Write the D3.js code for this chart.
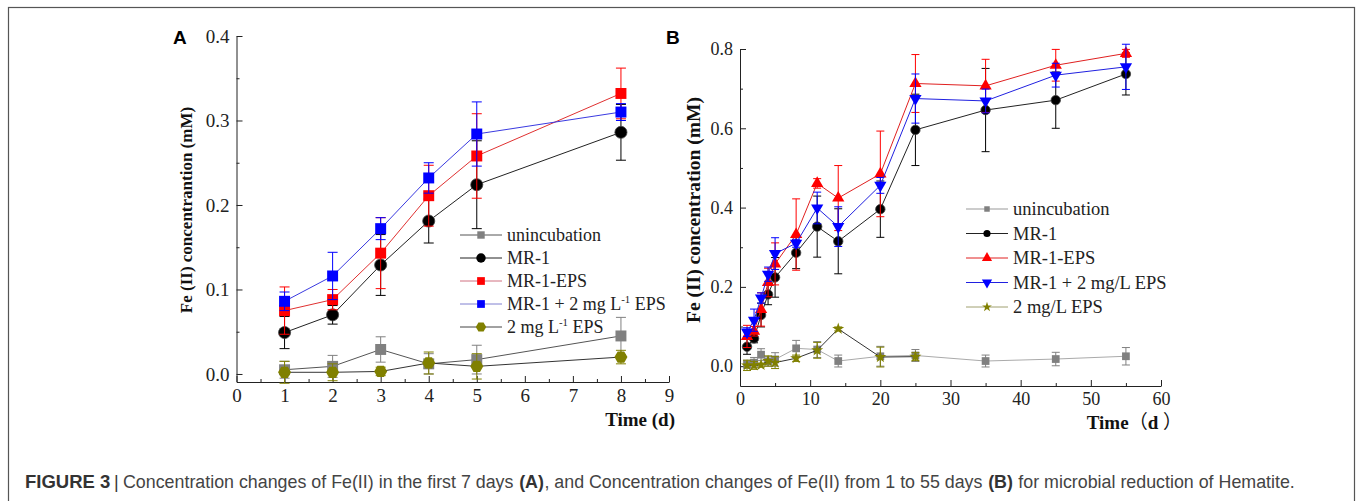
<!DOCTYPE html>
<html>
<head>
<meta charset="utf-8">
<script src="https://cdn.jsdelivr.net/npm/d3@7"></script>
<style>
  body { margin: 0; background: #fff; }
  svg { display: block; }
</style>
</head>
<body>
<div id="fig"></div>
<script>
// ---- data ----
var daysA = [1, 2, 3, 4, 5, 8];
var unincA = [0.005, 0.009, 0.029, 0.012, 0.017, 0.045];
var unincA_err = [0.010, 0.013, 0.015, 0.012, 0.017, 0.022];
var mr1A = [0.049, 0.070, 0.129, 0.181, 0.224, 0.286];
var mr1A_err = [0.019, 0.011, 0.036, 0.026, 0.052, 0.033];
var mr1epsA = [0.075, 0.088, 0.143, 0.211, 0.258, 0.332];
var mr1epsA_err = [0.028, 0.012, 0.042, 0.036, 0.050, 0.030];
var mr1plusA = [0.086, 0.116, 0.172, 0.232, 0.284, 0.310];
var mr1plusA_err = [0.011, 0.028, 0.013, 0.018, 0.038, 0.010];
var epsA = [0.002, 0.002, 0.003, 0.013, 0.009, 0.020];
var epsA_err = [0.013, 0.010, 0.005, 0.013, 0.015, 0.008];

var daysB = [1, 2, 3, 4, 5, 8, 11, 14, 20, 25, 35, 45, 55];
var unincB = [0.005, 0.009, 0.029, 0.012, 0.017, 0.045, 0.042, 0.013, 0.025, 0.027, 0.013, 0.018, 0.025];
var unincB_err = [0.010, 0.013, 0.015, 0.012, 0.017, 0.020, 0.020, 0.015, 0.025, 0.015, 0.015, 0.017, 0.022];
var mr1B = [0.049, 0.070, 0.129, 0.181, 0.224, 0.286, 0.352, 0.315, 0.396, 0.596, 0.646, 0.671, 0.737];
var mr1B_err = [0.019, 0.011, 0.030, 0.026, 0.050, 0.040, 0.077, 0.082, 0.071, 0.090, 0.105, 0.071, 0.053];
var mr1epsB = [0.075, 0.088, 0.143, 0.211, 0.258, 0.332, 0.461, 0.424, 0.485, 0.713, 0.707, 0.759, 0.789];
var mr1epsB_err = [0.028, 0.012, 0.042, 0.036, 0.053, 0.090, 0.012, 0.082, 0.108, 0.073, 0.067, 0.040, 0.010];
var mr1plusB = [0.086, 0.116, 0.172, 0.232, 0.284, 0.310, 0.399, 0.352, 0.456, 0.675, 0.669, 0.734, 0.755];
var mr1plusB_err = [0.011, 0.028, 0.013, 0.018, 0.040, 0.010, 0.040, 0.050, 0.020, 0.062, 0.030, 0.030, 0.057];
var epsB = [0.002, 0.002, 0.003, 0.013, 0.009, 0.020, 0.040, 0.094, 0.023, 0.024];
var epsB_err = [0.013, 0.010, 0.005, 0.013, 0.015, 0.008, 0.020, 0.005, 0.025, 0.010];

var ticksAx = [0, 1, 2, 3, 4, 5, 6, 7, 8, 9];
var ticksAy = [0, 0.1, 0.2, 0.3, 0.4];
var ticksBx = [0, 10, 20, 30, 40, 50, 60];
var ticksBy = [0, 0.2, 0.4, 0.6, 0.8];

var W = 1357, H = 501;
var serif = "'Liberation Serif', 'Times New Roman', serif";

var svg = d3.select("#fig").append("svg")
    .attr("width", W)
    .attr("height", H);

svg.append("rect").attr("width", W).attr("height", H).attr("fill", "#fff");
// outer frame
svg.append("rect")
    .attr("x", 8.5).attr("y", 7.5)
    .attr("width", 1346).attr("height", 510)
    .attr("fill", "none").attr("stroke", "#555").attr("stroke-width", 1.2);

// hexagon marker for the 2 mg L-1 EPS series in panel A
var symbolHex = {
  draw: function(ctx, size) {
    var r = Math.sqrt(size / (1.5 * Math.sqrt(3)));
    for (var i = 0; i < 6; i++) {
      var a = Math.PI / 3 * i;
      if (i === 0) ctx.moveTo(r * Math.cos(a), r * Math.sin(a));
      else ctx.lineTo(r * Math.cos(a), r * Math.sin(a));
    }
    ctx.closePath();
  }
};

function drawAxes(x, y, xTicks, yTicks, xMinor, yMinor, fs, yFmt, pad) {
  var xa = svg.append("g")
      .attr("transform", "translate(0," + y.range()[0] + ")")
      .call(d3.axisBottom(x).tickValues(xTicks).tickSize(-6).tickSizeOuter(0).tickPadding(pad.x).tickFormat(d3.format("d")));
  var xm = svg.append("g")
      .attr("transform", "translate(0," + y.range()[0] + ")")
      .call(d3.axisBottom(x).tickValues(xMinor).tickSize(-3).tickSizeOuter(0).tickFormat(""));
  var ya = svg.append("g")
      .attr("transform", "translate(" + x.range()[0] + ",0)")
      .call(d3.axisLeft(y).tickValues(yTicks).tickSize(-6).tickSizeOuter(0).tickPadding(pad.y).tickFormat(yFmt));
  var ym = svg.append("g")
      .attr("transform", "translate(" + x.range()[0] + ",0)")
      .call(d3.axisLeft(y).tickValues(yMinor).tickSize(-3).tickSizeOuter(0).tickFormat(""));
  [xa, xm, ya, ym].forEach(function(g) {
    g.selectAll("path, line").attr("stroke", "#222").attr("stroke-width", 1);
    g.selectAll("text").attr("font-family", serif).attr("font-size", fs).attr("fill", "#222");
  });
  xm.select("path").remove();
  ym.select("path").remove();
}

function drawSeries(x, y, days, vals, errs, s) {
  var pts = vals.map(function(v, i) { return {d: days[i], v: v, e: errs[i]}; });
  var g = svg.append("g");
  var eb = g.selectAll(".eb").data(pts).enter().append("g")
      .attr("stroke", s.color).attr("stroke-width", 1);
  eb.append("line")
      .attr("x1", function(d) { return x(d.d); }).attr("x2", function(d) { return x(d.d); })
      .attr("y1", function(d) { return y(d.v - d.e); }).attr("y2", function(d) { return y(d.v + d.e); });
  eb.append("line")
      .attr("x1", function(d) { return x(d.d) - s.cap; }).attr("x2", function(d) { return x(d.d) + s.cap; })
      .attr("y1", function(d) { return y(d.v + d.e); }).attr("y2", function(d) { return y(d.v + d.e); });
  eb.append("line")
      .attr("x1", function(d) { return x(d.d) - s.cap; }).attr("x2", function(d) { return x(d.d) + s.cap; })
      .attr("y1", function(d) { return y(d.v - d.e); }).attr("y2", function(d) { return y(d.v - d.e); });
  g.append("path")
      .datum(pts)
      .attr("fill", "none").attr("stroke", s.line).attr("stroke-width", 1)
      .attr("d", d3.line().x(function(d) { return x(d.d); }).y(function(d) { return y(d.v); }));
  g.selectAll(".m").data(pts).enter().append("path")
      .attr("transform", function(d) { return "translate(" + x(d.d) + "," + y(d.v) + ")" + (s.rot ? " rotate(180)" : ""); })
      .attr("d", d3.symbol().type(s.type).size(s.size))
      .attr("fill", s.color).attr("stroke", s.stroke || "none").attr("stroke-width", 0.8);
}

function drawLegend(x0, y0, step, len, fs, items) {
  var lg = svg.append("g").attr("transform", "translate(" + x0 + "," + y0 + ")");
  items.forEach(function(it, i) {
    var g = lg.append("g").attr("transform", "translate(0," + (i * step) + ")");
    g.append("line").attr("x1", 0).attr("x2", len).attr("y1", 0).attr("y2", 0)
        .attr("stroke", it.s.legLine || it.s.line).attr("stroke-width", 1);
    g.append("path")
        .attr("transform", "translate(" + (len / 2) + ",0)" + (it.s.rot ? " rotate(180)" : ""))
        .attr("d", d3.symbol().type(it.s.type).size(it.s.legSize))
        .attr("fill", it.s.color);
    var t = g.append("text").attr("x", len + 5).attr("y", 6)
        .attr("font-family", serif).attr("font-size", fs).attr("fill", "#222");
    it.label.forEach(function(p) {
      var ts = t.append("tspan").text(p.t);
      if (p.sup) ts.attr("font-size", fs * 0.6).attr("dy", -7);
      if (p.after) ts.attr("dy", 7);
    });
  });
}

// ---------------- Panel A ----------------
var xA = d3.scaleLinear().domain([0, 9]).range([236.5, 669]);
var yA = d3.scaleLinear().domain([-0.0095, 0.4]).range([382, 36]);
drawAxes(xA, yA, ticksAx, ticksAy, d3.range(0.5, 9, 1), d3.range(0.05, 0.4, 0.1), 19, d3.format(".1f"), {x: 7, y: 7});

var stA = {
  uninc: {color: "#808080", line: "#555", type: d3.symbolSquare, size: 120, cap: 5, legSize: 55},
  mr1: {color: "#000", line: "#222", type: d3.symbolCircle, size: 115, cap: 5, legSize: 70, stroke: "#444"},
  eps: {color: "#ff0000", line: "#e03030", type: d3.symbolSquare, size: 120, cap: 5, legSize: 60, legLine: "#d07080"},
  plus: {color: "#0000ff", line: "#3a3ae0", type: d3.symbolSquare, size: 120, cap: 5, legSize: 60, legLine: "#8080d0"},
  eps2: {color: "#808000", line: "#333", type: symbolHex, size: 110, cap: 5, legSize: 70, legLine: "#444"}
};
drawSeries(xA, yA, daysA, unincA, unincA_err, stA.uninc);
drawSeries(xA, yA, daysA, mr1A, mr1A_err, stA.mr1);
drawSeries(xA, yA, daysA, mr1epsA, mr1epsA_err, stA.eps);
drawSeries(xA, yA, daysA, mr1plusA, mr1plusA_err, stA.plus);
drawSeries(xA, yA, daysA, epsA, epsA_err, stA.eps2);

drawLegend(460, 235, 23, 42, 18, [
  {s: stA.uninc, label: [{t: "unincubation"}]},
  {s: stA.mr1, label: [{t: "MR-1"}]},
  {s: stA.eps, label: [{t: "MR-1-EPS"}]},
  {s: stA.plus, label: [{t: "MR-1 + 2 mg L"}, {t: "-1", sup: true}, {t: " EPS", after: true}]},
  {s: stA.eps2, label: [{t: "2 mg L"}, {t: "-1", sup: true}, {t: " EPS", after: true}]}
]);

svg.append("text").attr("x", 675).attr("y", 426).attr("text-anchor", "end")
    .attr("font-family", serif).attr("font-weight", "bold").attr("font-size", 19).attr("fill", "#111")
    .text("Time (d)");
svg.append("text").attr("transform", "translate(192,210) rotate(-90)").attr("text-anchor", "middle")
    .attr("font-family", serif).attr("font-weight", "bold").attr("font-size", 17).attr("fill", "#111")
    .text("Fe (II) concentrantion (mM)");
svg.append("text").attr("x", 173).attr("y", 44)
    .attr("font-family", "'Liberation Sans', Arial, sans-serif").attr("font-weight", "bold").attr("font-size", 19)
    .text("A");

// ---------------- Panel B ----------------
var xB = d3.scaleLinear().domain([0, 60]).range([740, 1161]);
var yB = d3.scaleLinear().domain([-0.05, 0.8]).range([386, 49]);
drawAxes(xB, yB, ticksBx, ticksBy, d3.range(5, 60, 10), d3.range(0.1, 0.8, 0.2), 18, d3.format(".1f"), {x: 6, y: 7});

var stB = {
  uninc: {color: "#808080", line: "#aaa", type: d3.symbolSquare, size: 60, cap: 4, legSize: 30, legLine: "#999"},
  mr1: {color: "#000", line: "#222", type: d3.symbolCircle, size: 70, cap: 4, legSize: 40, stroke: "#444"},
  eps: {color: "#ff0000", line: "#e02020", type: d3.symbolTriangle, size: 65, cap: 4, legSize: 45},
  plus: {color: "#0000ff", line: "#2020e0", type: d3.symbolTriangle, size: 65, cap: 4, legSize: 45, rot: true},
  eps2: {color: "#808000", line: "#333", type: d3.symbolStar, size: 45, cap: 4, legSize: 30, legLine: "#a0a070"}
};
drawSeries(xB, yB, daysB, unincB, unincB_err, stB.uninc);
drawSeries(xB, yB, daysB, epsB, epsB_err, stB.eps2);
drawSeries(xB, yB, daysB, mr1B, mr1B_err, stB.mr1);
drawSeries(xB, yB, daysB, mr1epsB, mr1epsB_err, stB.eps);
drawSeries(xB, yB, daysB, mr1plusB, mr1plusB_err, stB.plus);

drawLegend(966, 209, 24.5, 42, 18.5, [
  {s: stB.uninc, label: [{t: "unincubation"}]},
  {s: stB.mr1, label: [{t: "MR-1"}]},
  {s: stB.eps, label: [{t: "MR-1-EPS"}]},
  {s: stB.plus, label: [{t: "MR-1 + 2 mg/L EPS"}]},
  {s: stB.eps2, label: [{t: "2 mg/L EPS"}]}
]);

var tB = svg.append("text").attr("x", 1182).attr("y", 429).attr("text-anchor", "end")
    .attr("font-family", serif).attr("font-weight", "bold").attr("font-size", 19).attr("fill", "#111");
tB.append("tspan").text("Time");
tB.append("tspan").attr("font-family", "'Noto Sans CJK SC', sans-serif").attr("font-weight", "normal").text("（");
tB.append("tspan").text("d ");
tB.append("tspan").attr("font-family", "'Noto Sans CJK SC', sans-serif").attr("font-weight", "normal").text("）");
svg.append("text").attr("transform", "translate(700,210) rotate(-90)").attr("text-anchor", "middle")
    .attr("font-family", serif).attr("font-weight", "bold").attr("font-size", 19.5).attr("fill", "#111")
    .text("Fe (II) concentration (mM)");
svg.append("text").attr("x", 666).attr("y", 44)
    .attr("font-family", "'Liberation Sans', Arial, sans-serif").attr("font-weight", "bold").attr("font-size", 19)
    .text("B");

// ---------------- caption ----------------
// pieces are placed one after another; the font size is scaled so the
// whole line spans the same width as in the original
var sans = "'Liberation Sans', Arial, sans-serif";
var capParts = [
  {t: "Concentration changes of Fe(II) in the first 7 days ", b: false},
  {t: "(A)", b: true},
  {t: ", and Concentration changes of Fe(II) from 1 to 55 days ", b: false},
  {t: "(B)", b: true},
  {t: " for microbial reduction of Hematite.", b: false}
];
svg.append("text").attr("x", 25).attr("y", 488)
    .attr("font-family", sans).attr("font-weight", "bold").attr("font-size", 18.5).attr("fill", "#333")
    .text("FIGURE 3");
svg.append("text").attr("x", 114).attr("y", 488)
    .attr("font-family", sans).attr("font-size", 18).attr("fill", "#333")
    .text("|");
var capNodes = capParts.map(function(p) {
  return svg.append("text").attr("y", 488)
      .attr("font-family", sans).attr("font-size", 18)
      .attr("font-weight", p.b ? "bold" : "normal")
      .attr("fill", p.b ? "#333" : "#444")
      .style("white-space", "pre")
      .text(p.t);
});
var natural = capNodes.map(function(n) { return n.node().getComputedTextLength(); });
var k = 1170 / d3.sum(natural);
var cx = 123;
capNodes.forEach(function(n, i) {
  n.attr("x", cx).attr("font-size", 18 * k);
  cx += natural[i] * k + 0.5;
});
</script>
</body>
</html>
